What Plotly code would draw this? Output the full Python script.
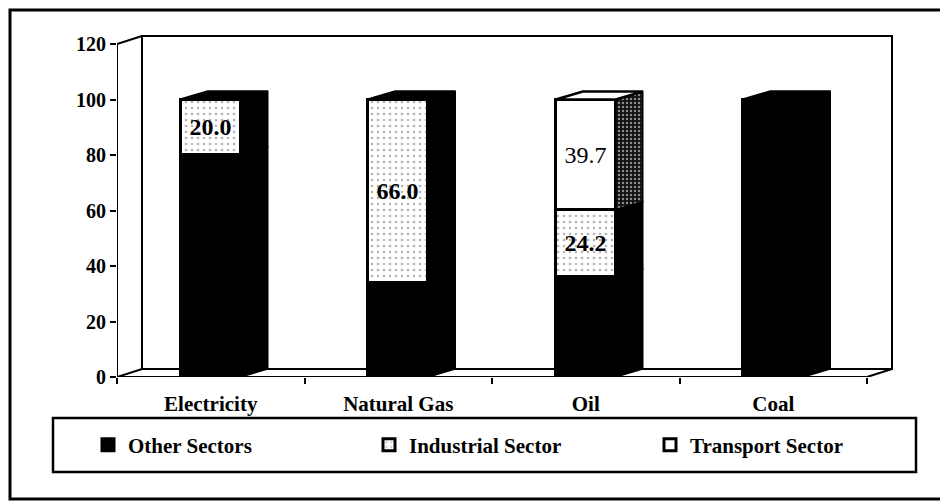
import plotly.graph_objects as go

# ---- data -------------------------------------------------------------
categories = ["Electricity", "Natural Gas", "Oil", "Coal"]
other_sectors = [80.0, 34.0, 36.1, 100.0]
industrial_sector = [20.0, 66.0, 24.2, 0.0]
transport_sector = [0.0, 0.0, 39.7, 0.0]
series_names = ["Other Sectors", "Industrial Sector", "Transport Sector"]
y_ticks = [0, 20, 40, 60, 80, 100, 120]

# ---- geometry (pixels of the 940x502 canvas) --------------------------
FIG_W, FIG_H = 940, 502
PL, PR, PT, PB = 117, 897, 33, 377          # plot area edges
PX_PER_X = 187.5                            # one category slot
PX_PER_Y = 2.775                            # one percentage point
X0 = -0.5
X1 = X0 + (PR - PL) / PX_PER_X
Y1 = (PB - PT) / PX_PER_Y

WALL_DX, WALL_DY = 25 / PX_PER_X, 8 / PX_PER_Y
BAR_DX, BAR_DY = 27 / PX_PER_X, 8 / PX_PER_Y
BAR_W = 60 / PX_PER_X
N = len(categories)
Y_TOP = max(y_ticks)

FONT = "Liberation Serif, Times New Roman, serif"


def paper_x(px):
    return (px - PL) / (PR - PL)


def paper_y(py):
    return (PB - py) / (PB - PT)


xs = list(range(N))
values = [other_sectors, industrial_sector, transport_sector]

front_styles = [
    dict(color="#000000", line=dict(color="#000000", width=3)),
    dict(color="#ffffff", line=dict(color="#000000", width=3),
         pattern=dict(shape=".", fgcolor="#6a6a6a", bgcolor="#ffffff",
                      size=6, solidity=0.15)),
    dict(color="#ffffff", line=dict(color="#000000", width=3)),
]
side_fill = ["#000000", "#000000", "#2a2a2a"]
side_pattern = [None, None,
                dict(shape=".", fgcolor="#ffffff", bgcolor="#111111",
                     size=4, solidity=0.3)]
top_fill = ["#000000", "#000000", "#ffffff"]
label_weight = [None, "bold", "normal"]

fig = go.Figure()

# front faces of the stacked columns
for k, (name, vals) in enumerate(zip(series_names, values)):
    show_text = label_weight[k] is not None
    fig.add_trace(go.Bar(
        x=xs, y=vals, name=name, width=BAR_W,
        marker=front_styles[k],
        text=[f"{v:.1f}" if (v > 0 and show_text) else "" for v in vals],
        textposition="inside", insidetextanchor="middle", textangle=0,
        constraintext="none",
        textfont=dict(family=FONT, size=24, color="#000000",
                      weight=label_weight[k] or "normal"),
        hoverinfo="x+y",
    ))

# side faces, one polygon per segment
bases = [0.0] * N
for k, vals in enumerate(values):
    px_, py_ = [], []
    for i, v in enumerate(vals):
        if v <= 0:
            continue
        xr = xs[i] + BAR_W / 2
        b, t = bases[i], bases[i] + v
        px_ += [xr, xr, xr + BAR_DX, xr + BAR_DX, xr, None]
        py_ += [b, t, t + BAR_DY, b + BAR_DY, b, None]
    for i, v in enumerate(vals):
        bases[i] += v
    if px_:
        kw = dict(fillpattern=side_pattern[k]) if side_pattern[k] else {}
        fig.add_trace(go.Scatter(
            x=px_, y=py_, mode="lines", fill="toself",
            fillcolor=side_fill[k], line=dict(color="#000000", width=1.5),
            showlegend=False, hoverinfo="skip", **kw))

# top faces, coloured by the uppermost non-empty segment
for i in range(N):
    top_k = max(k for k in range(len(values)) if values[k][i] > 0)
    t = sum(values[k][i] for k in range(len(values)))
    xl, xr = xs[i] - BAR_W / 2, xs[i] + BAR_W / 2
    fig.add_trace(go.Scatter(
        x=[xl, xl + BAR_DX, xr + BAR_DX, xr, xl],
        y=[t, t + BAR_DY, t + BAR_DY, t, t],
        mode="lines", fill="toself", fillcolor=top_fill[top_k],
        line=dict(color="#000000", width=2.5),
        showlegend=False, hoverinfo="skip"))

# walls and floor of the 3-D box, beneath the columns
xb0, xb1 = X0 + WALL_DX, N - 0.5 + WALL_DX
shapes = [
    dict(type="path", xref="x", yref="y", layer="below",
         path=f"M{xb0},{WALL_DY} L{xb0},{Y_TOP + WALL_DY} "
              f"L{xb1},{Y_TOP + WALL_DY} L{xb1},{WALL_DY} Z",
         fillcolor="#ffffff", line=dict(color="#000000", width=2)),
    dict(type="path", xref="x", yref="y", layer="below",
         path=f"M{X0},0 L{N - 0.5},0 L{xb1},{WALL_DY} L{xb0},{WALL_DY} Z",
         fillcolor="#ffffff", line=dict(color="#000000", width=2)),
    dict(type="path", xref="x", yref="y", layer="below",
         path=f"M{X0},0 L{X0},{Y_TOP} L{xb0},{Y_TOP + WALL_DY}",
         line=dict(color="#000000", width=2)),
    # legend frame
    dict(type="rect", xref="paper", yref="paper",
         x0=paper_x(53), x1=paper_x(916), y0=paper_y(472), y1=paper_y(418),
         line=dict(color="#000000", width=2.5)),
    # outer frame
    dict(type="rect", xref="paper", yref="paper",
         x0=paper_x(10), x1=paper_x(960), y0=paper_y(499), y1=paper_y(10),
         line=dict(color="#000000", width=3)),
]

fig.update_layout(
    width=FIG_W, height=FIG_H,
    margin=dict(l=PL, r=FIG_W - PR, t=PT, b=FIG_H - PB, pad=0),
    paper_bgcolor="#ffffff", plot_bgcolor="rgba(0,0,0,0)",
    barmode="stack", bargap=0,
    shapes=shapes,
    font=dict(family=FONT, color="#000000"),
    xaxis=dict(
        range=[X0, X1], tickvals=xs, ticktext=categories, ticks="",
        showgrid=False, zeroline=False, showline=False,
        tickfont=dict(family=FONT, size=21, weight="bold", color="#000000"),
        ticklabelstandoff=12,
        minor=dict(tickvals=[i - 0.5 for i in range(N + 1)], ticks="outside",
                   ticklen=6, tickwidth=2, tickcolor="#000000",
                   showgrid=False),
    ),
    yaxis=dict(
        range=[0, Y1], tickvals=y_ticks, ticks="outside", ticklen=6,
        tickwidth=2, tickcolor="#000000",
        showgrid=False, zeroline=False, showline=False,
        tickfont=dict(family=FONT, size=20, weight="bold", color="#000000"),
    ),
    legend=dict(
        orientation="h", traceorder="normal",
        x=paper_x(88), xanchor="left",
        y=paper_y(445), yanchor="middle",
        entrywidth=236, entrywidthmode="pixels",
        bgcolor="rgba(0,0,0,0)", borderwidth=0,
        font=dict(family=FONT, size=21, weight="bold", color="#000000"),
        itemclick=False, itemdoubleclick=False,
    ),
    showlegend=True,
)

fig.write_html("out.html")
